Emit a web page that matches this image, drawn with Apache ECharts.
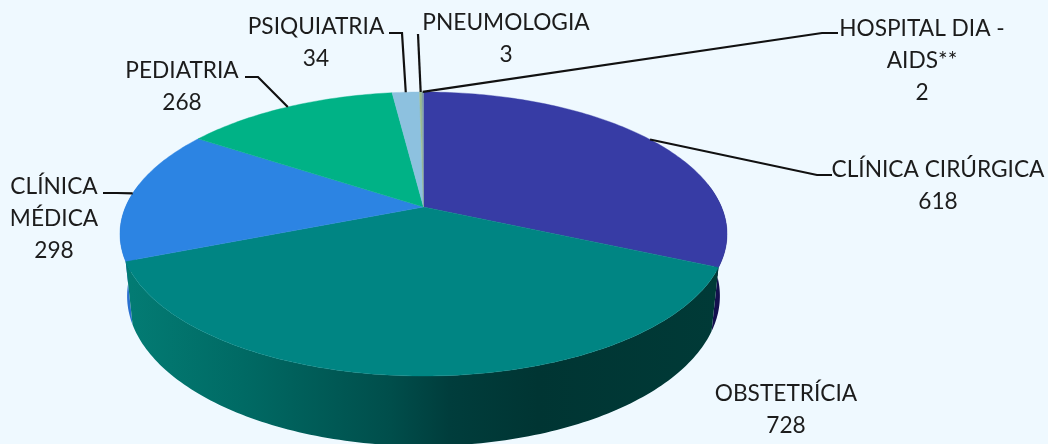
<!DOCTYPE html>
<html><head><meta charset="utf-8">
<style>html,body{margin:0;padding:0;background:#EFF9FF}#c{width:1048px;height:444px}</style>
<script src="https://cdn.jsdelivr.net/npm/echarts@6/dist/echarts.min.js"></script>
</head><body><div id="c"></div>
<script>
const categories = ['CLÍNICA CIRÚRGICA','OBSTETRÍCIA','CLÍNICA\nMÉDICA','PEDIATRIA','PSIQUIATRIA','PNEUMOLOGIA','HOSPITAL DIA -\nAIDS**'];
const values = [618,728,298,268,34,3,2];
const topColors = ['#373CA5','#008583','#2C84E3','#00B286','#8DC1DF','#9BBB8F','#7F9FA8'];
const wallStops = [
  [[0,'#16125C'],[1,'#14104E']],
  [[0,'#037C74'],[0.2,'#006A64'],[0.45,'#004E4B'],[0.55,'#003D3C'],[0.7,'#003533'],[1,'#003A37']],
  [[0,'#2A70D0'],[1,'#2A70D0']],
  [[0,'#00B286'],[1,'#00B286']],[[0,'#8DC1DF'],[1,'#8DC1DF']],[[0,'#9BBB8F'],[1,'#9BBB8F']],[[0,'#7F9FA8'],[1,'#7F9FA8']]
];
// label layout: centre x, centre y of the block; leader elbow points
const labelPos = [[938,185.5],[786,409.5],[54,218.5],[182,86.5],[316,42.5],[506,38.5],[922,60.5]];
const leaderEnds = [
  [[817,175],[832,175]], null, [[117,193],[103,193]], [[258,77],[245,77]],
  [[402,33],[389,33]], [[418,34]], [[822,33],[838,33]]
];
// perspective projection of the pie disc
const topDisc = {cx:423.5, cy:207, A:298, B:136.9, k:0.19};
const botDisc = {cx:423.5, cy:267.5, A:291, B:144.6, k:0.19};
function proj(p, deg){
  const t = deg*Math.PI/180, u = Math.sin(t), v = -Math.cos(t), w = 1-p.k*v;
  return [p.cx+p.A*u/w, p.cy+p.B*v/w];
}
const total = values.reduce((a,b)=>a+b,0);
const starts = []; { let c=0; values.forEach(v=>{starts.push(c/total*360); c+=v;}); }
const ends = values.map((v,i)=>starts[i]+v/total*360);
function rim(p,a,b){ const pts=[]; const n=Math.max(2,Math.ceil(b-a)+1);
  for(let i=0;i<n;i++) pts.push(proj(p,a+(b-a)*i/(n-1))); return pts; }

const chart = echarts.init(document.getElementById('c'),null,{renderer:'canvas'});
const wallOrder = [0,2,1];
chart.setOption({
  animation:false,
  backgroundColor:'#EFF9FF',
  series:[
    {type:'custom',coordinateSystem:'none',silent:true,z:1,data:wallOrder.map(i=>values[i]),
     renderItem(params){
       const i = wallOrder[params.dataIndex];
       const a = Math.max(starts[i],80), b = Math.min(ends[i],280);
       if(b<=a) return {type:'group',children:[]};
       const pts = rim(topDisc,a,b).concat(rim(botDisc,a,b).reverse());
       return {type:'polygon',shape:{points:pts},style:{
         fill:new echarts.graphic.LinearGradient(125,0,715,0,
           wallStops[i].map(s=>({offset:s[0],color:s[1]})),true)}};
     }},
    {type:'custom',coordinateSystem:'none',silent:true,z:2,data:values,
     renderItem(params){
       const i = params.dataIndex;
       const pts = [[topDisc.cx,topDisc.cy]].concat(rim(topDisc,starts[i],ends[i]));
       return {type:'polygon',shape:{points:pts},style:{fill:topColors[i],stroke:topColors[i],lineWidth:0.4}};
     }},
    {type:'custom',coordinateSystem:'none',silent:true,z:3,data:values,
     renderItem(params){
       const i = params.dataIndex, children = [];
       if(leaderEnds[i]){
         const pts = [proj(topDisc,(starts[i]+ends[i])/2)].concat(leaderEnds[i]);
         children.push({type:'polyline',shape:{points:pts},style:{fill:null,stroke:'#111',lineWidth:2.2}});
       }
       children.push({type:'text',style:{
         text:categories[i]+'\n'+values[i],x:labelPos[i][0],y:labelPos[i][1],
         align:'center',verticalAlign:'middle',lineHeight:32,
         font:'22.7px Lato, "Open Sans", sans-serif',fill:'#1c1c1c'}});
       return {type:'group',children};
     }}
  ]
});
</script></body></html>
